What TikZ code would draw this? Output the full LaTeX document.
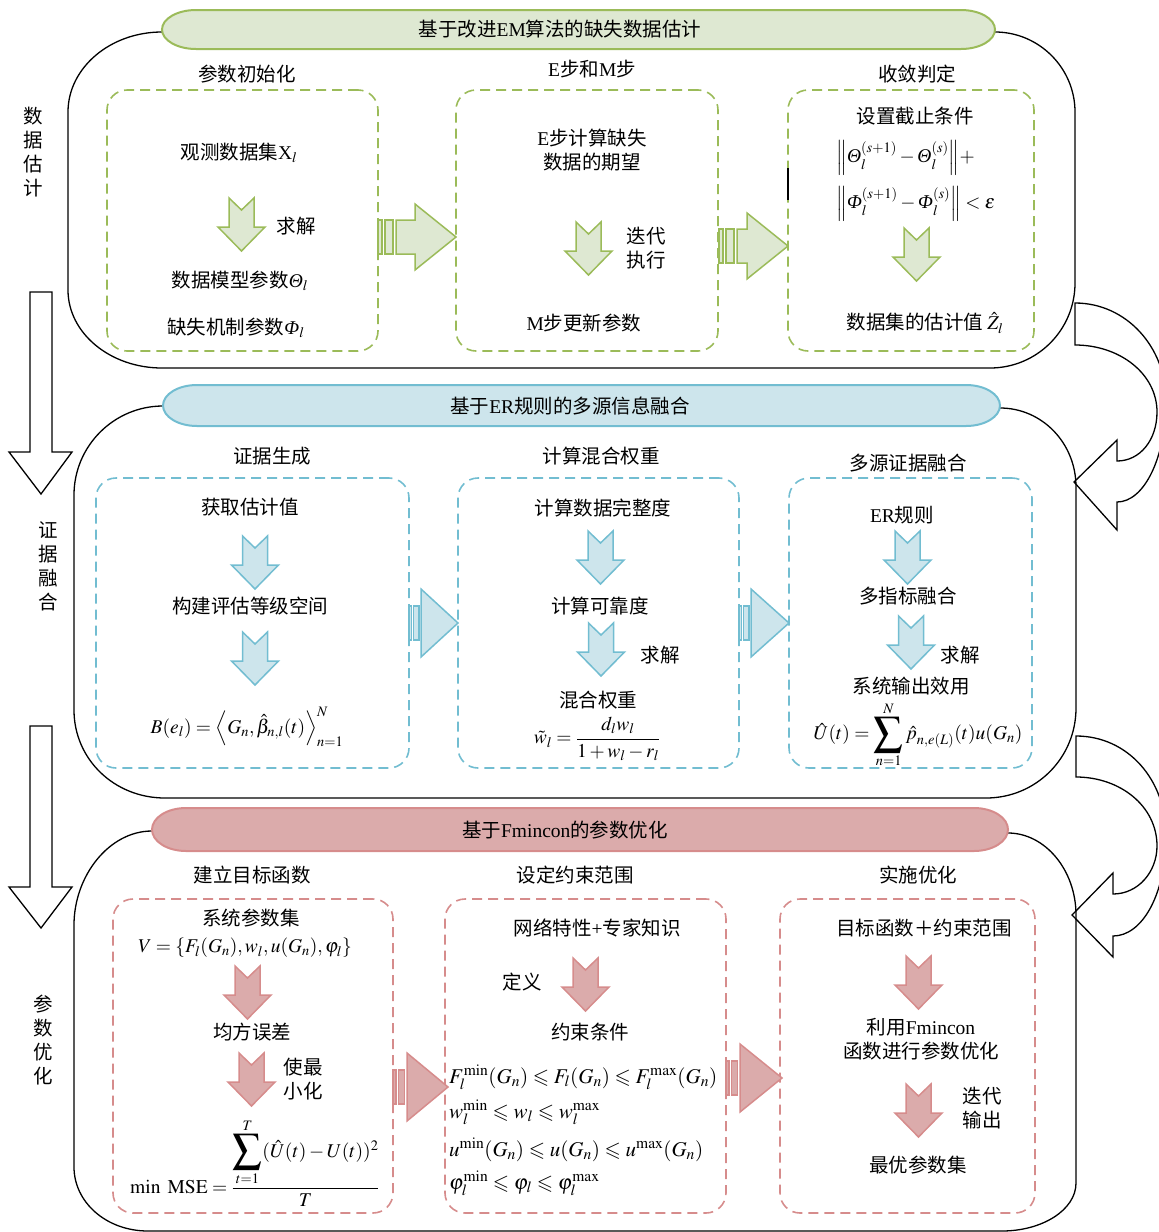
\documentclass[tikz,border=0pt]{standalone}
\usepackage{amsmath}
\usepackage{amssymb}
\usepackage{mathptmx}
\usepackage{fontspec}
\setmainfont{Liberation Serif}
\newfontfamily\zhfont{Noto Sans CJK SC}

\definecolor{gline}{HTML}{9BBB59}
\definecolor{gfill}{HTML}{DEE8D2}
\definecolor{bline}{HTML}{72BDD1}
\definecolor{bfill}{HTML}{CDE5EC}
\definecolor{rline}{HTML}{D68C8C}
\definecolor{rfill}{HTML}{DBABAB}

\newcommand\en[1]{{\rmfamily #1}}
\newcommand\itTheta{\mbox{\rmfamily\itshape Θ}}
\newcommand\itPhi{\mbox{\rmfamily\itshape Φ}}
% enlarged summation sign with limits above and below
\newcommand\bigsum{\mathop{\vcenter{\hbox{\fontsize{29}{29}\selectfont$\displaystyle\sum$}}}\limits}

% title banner with elliptical ends: x1, x2, top, bottom, line, fill
\newcommand\banner[6]{%
  \draw[line width=2pt, draw=#5, fill=#6]
    ({#1+34},{#3}) -- ({#2-34},{#3})
    arc[start angle=-90, end angle=90, x radius=34, y radius={(#4-#3)/2}]
    -- ({#1+34},{#4})
    arc[start angle=90, end angle=270, x radius=34, y radius={(#4-#3)/2}]
    -- cycle;}

% block arrow between steps: x0, shaft start, head start, tip, y centre, half shaft, half head, style
\newcommand\blkarrow[8]{%
  \pgfmathsetmacro\bL{#2-#1}
  \draw[#8] ({#1},{#5-#6}) rectangle ({#1+0.22*\bL},{#5+#6});
  \draw[#8] ({#1+0.39*\bL},{#5-#6}) rectangle ({#1+0.83*\bL},{#5+#6});
  \draw[#8] ({#2},{#5-#6}) -- ({#3},{#5-#6}) -- ({#3},{#5-#7}) -- ({#4},{#5})
    -- ({#3},{#5+#7}) -- ({#3},{#5+#6}) -- ({#2},{#5+#6}) -- cycle;}

% notched downward arrow: x centre, top, style
\newcommand\dnarrow[3]{%
  \draw[#3] ({#1-12.5},{#2}) -- ({#1},{#2+12}) -- ({#1+12.5},{#2})
    -- ({#1+12.5},{#2+29}) -- ({#1+23.5},{#2+29}) -- ({#1},{#2+53})
    -- ({#1-23.5},{#2+29}) -- ({#1-12.5},{#2+29}) -- cycle;}

\tikzset{
  zh/.style={font=\zhfont\fontsize{19.5}{24}\selectfont, inner sep=0pt, align=center},
  mth/.style={font=\fontsize{19.5}{24}\selectfont, inner sep=0pt},
  mthl/.style={font=\fontsize{21}{25}\selectfont, inner sep=0pt},
  panel/.style={draw=black, line width=1.3pt},
  dbox/.style={draw=#1, line width=1.6pt, dash pattern=on 10pt off 6pt,
               rounded corners=20pt, inner sep=0pt},
  garr/.style={draw=gline, fill=gfill, line width=1.5pt},
  barr/.style={draw=bline, fill=bfill, line width=1.5pt},
  rarr/.style={draw=rline, fill=rfill, line width=1.5pt},
  warr/.style={draw=black, fill=white, line width=1.3pt},
}

\begin{document}
\begin{tikzpicture}[x=1pt,y=-1pt]
\useasboundingbox (0,0) rectangle (1159,1232);

% ---------- curved arrows on the right ----------
\draw[warr] (1075,303) .. controls (1127,303) and (1166,348) .. (1166,400)
  .. controls (1166,458) and (1144,502) .. (1117,502)
  -- (1117,530) -- (1074,482) -- (1117,440) -- (1117,461)
  .. controls (1140,461) and (1157,440) .. (1157,412)
  .. controls (1157,374) and (1120,345) .. (1075,345) -- cycle;
\draw[warr] (1076,736) .. controls (1128,736) and (1166,780) .. (1166,835)
  .. controls (1166,895) and (1142,936) .. (1113,936)
  -- (1113,957) -- (1072,915) -- (1113,873) -- (1113,894)
  .. controls (1138,894) and (1157,872) .. (1157,846)
  .. controls (1157,806) and (1120,777) .. (1076,777) -- cycle;

% ---------- panels ----------
\draw[panel] (162,32) .. controls (110,32) and (68,68) .. (68,112) -- (68,290)
  .. controls (68,333) and (110,368) .. (162,368) -- (990,368)
  .. controls (1037,368) and (1075,330) .. (1075,283) -- (1075,112)
  .. controls (1075,68) and (1039,32) .. (995,32);
\draw[panel] (163,406) .. controls (114,406) and (74,446) .. (74,495) -- (74,710)
  .. controls (74,759) and (114,798) .. (165,798) -- (986,798)
  .. controls (1036,798) and (1076,758) .. (1076,708) -- (1076,487)
  .. controls (1076,443) and (1042,408) .. (1000,408);
\draw[panel] (152,831) .. controls (109,831) and (74,876) .. (74,925) -- (74,1167)
  .. controls (74,1202) and (106,1231) .. (148,1231) -- (1002,1231)
  .. controls (1042,1231) and (1076,1210) .. (1076,1183) -- (1076,915)
  .. controls (1076,870) and (1045,833) .. (1008,833);

% ---------- left flow arrows and stage labels ----------
\draw[warr] (30,292) -- (52,292) -- (52,452) -- (72,452) -- (41,494) -- (9,452) -- (30,452) -- cycle;
\draw[warr] (30,726) -- (52,726) -- (52,887) -- (72,887) -- (41,928) -- (9,887) -- (30,887) -- cycle;
\node[zh] (lab1) at (33,152.5) {数\\据\\估\\计};
\node[zh] (lab2) at (48,566) {证\\据\\融\\合};
\node[zh] (lab3) at (43,1040.5) {参\\数\\优\\化};

% ================= stage 1: missing data estimation =================
\banner{162}{995}{10}{49}{gline}{gfill}
\node[zh] (ban1) at (560,29.5) {基于改进\en{EM}算法的缺失数据估计};

\node[zh] (s11) at (247,74) {参数初始化};
\node[zh] (s12) at (592,69) {\en{E}步和\en{M}步};
\node[zh] (s13) at (917,74) {收敛判定};

\node[dbox=gline, minimum width=271pt, minimum height=261pt] (b11) at (242.5,220.5) {};
\node[dbox=gline, minimum width=262pt, minimum height=261pt] (b12) at (587,220.5) {};
\node[dbox=gline, minimum width=246pt, minimum height=261pt] (b13) at (911,220.5) {};
\draw[line width=1.3pt] (788,168) -- (788,200);

\blkarrow{378}{396}{415}{456}{237}{17}{33}{garr}
\blkarrow{719}{737}{747}{788}{246}{17}{33}{garr}

\node[zh] (n11) at (239,153) {观测数据集\en{X}$_l$};
\dnarrow{241.5}{198}{garr}
\node[zh] (n12) at (296,226) {求解};
\node[zh] (n13) at (240,281) {数据模型参数$\itTheta_l$};
\node[zh] (n14) at (236,328) {缺失机制参数$\itPhi_l$};

\node[zh] (n21) at (592,150) {\en{E}步计算缺失\\数据的期望};
\dnarrow{588.5}{222}{garr}
\node[zh] (n22) at (646,248) {迭代\\执行};
\node[zh] (n23) at (584,323) {\en{M}步更新参数};

\node[zh] (n31) at (915,116) {设置截止条件};
\node[mth, anchor=west] (n32) at (836,158)
  {$\Bigl\|\itTheta_l^{(s+1)}-\itTheta_l^{(s)}\Bigr\|+$};
\node[mth, anchor=west] (n33) at (836,204)
  {$\Bigl\|\itPhi_l^{(s+1)}-\itPhi_l^{(s)}\Bigr\|<\varepsilon$};
\dnarrow{916.5}{228}{garr}
\node[zh] (n34) at (925,323) {数据集的估计值 $\hat Z_l$};

% ================= stage 2: evidence fusion =================
\banner{163}{1000}{385}{426}{bline}{bfill}
\node[zh] (ban2) at (570,406) {基于\en{ER}规则的多源信息融合};

\node[zh] (s21) at (272,456) {证据生成};
\node[zh] (s22) at (601,456) {计算混合权重};
\node[zh] (s23) at (908,463) {多源证据融合};

\node[dbox=bline, minimum width=313pt, minimum height=290pt] (b21) at (252.5,623) {};
\node[dbox=bline, minimum width=281pt, minimum height=290pt] (b22) at (598.5,623) {};
\node[dbox=bline, minimum width=243pt, minimum height=290pt] (b23) at (910.5,623) {};

\blkarrow{409}{421}{421}{458}{623}{17}{34}{barr}
\blkarrow{739}{751}{751}{789}{623}{17}{34}{barr}

\node[zh] (m11) at (250,507) {获取估计值};
\dnarrow{255}{536}{barr}
\node[zh] (m12) at (250,606) {构建评估等级空间};
\dnarrow{255}{632}{barr}
\node[mth] (m13) at (247,727)
  {$B(e_l)=\Bigl\langle G_n,\hat\beta_{n,l}(t)\Bigr\rangle_{n=1}^{N}$};

\node[zh] (m21) at (603,508) {计算数据完整度};
\dnarrow{600.5}{531}{barr}
\node[zh] (m22) at (600,606) {计算可靠度};
\dnarrow{601}{623}{barr}
\node[zh] (m23) at (660,655) {求解};
\node[zh] (m24) at (598,700) {混合权重};
\node[mth] (m25) at (597,739) {$\tilde w_l=\dfrac{d_l w_l}{1+w_l-r_l}$};

\node[zh] (m31) at (902,515) {\en{ER}规则};
\dnarrow{907.5}{531}{barr}
\node[zh] (m32) at (908,596) {多指标融合};
\dnarrow{911}{616}{barr}
\node[zh] (m33) at (960,655) {求解};
\node[zh] (m34) at (911,686) {系统输出效用};
\node[mth] (m35) at (918,735)
  {$\hat U(t)=\bigsum_{n=1}^{N}\hat p_{n,e(L)}(t)u(G_n)$};

% ================= stage 3: parameter optimisation =================
\banner{152}{1008}{808}{851}{rline}{rfill}
\node[zh] (ban3) at (565,830) {基于\en{Fmincon}的参数优化};

\node[zh] (s31) at (252,875) {建立目标函数};
\node[zh] (s32) at (575,875) {设定约束范围};
\node[zh] (s33) at (918,875) {实施优化};

\node[dbox=rline, minimum width=280pt, minimum height=314pt] (b31) at (253,1056) {};
\node[dbox=rline, minimum width=281pt, minimum height=314pt] (b32) at (585.5,1056) {};
\node[dbox=rline, minimum width=255pt, minimum height=314pt] (b33) at (907.5,1056) {};

\blkarrow{393}{407}{407}{448}{1087}{17}{34}{rarr}
\blkarrow{726}{740}{740}{782}{1078}{17}{34}{rarr}

\node[zh] (k11) at (251,918) {系统参数集};
\node[mth] (k12) at (245,948)
  {$V=\left\{F_l(G_n),w_l,u(G_n),\varphi_l\right\}$};
\dnarrow{247.5}{966}{rarr}
\node[zh] (k13) at (252,1032) {均方误差};
\dnarrow{251.5}{1053}{rarr}
\node[zh] (k14) at (303,1079) {使最\\小化};
\node[mth, anchor=base west] (k15) at (130,1193)
  {$\min\ \mathrm{MSE}=\dfrac{\bigsum_{t=1}^{T}(\hat U(t)-U(t))^2}{T}$};

\node[zh] (k21) at (597,928) {网络特性\en{+}专家知识};
\dnarrow{585.5}{958}{rarr}
\node[zh] (k22) at (522,982) {定义};
\node[zh] (k23) at (590,1032) {约束条件};
\node[mthl, anchor=base west] (k24) at (449,1083)
  {$F_l^{\min}(G_n)\leqslant F_l(G_n)\leqslant F_l^{\max}(G_n)$};
\node[mthl, anchor=base west] (k25) at (449,1118)
  {$w_l^{\min}\leqslant w_l\leqslant w_l^{\max}$};
\node[mthl, anchor=base west] (k26) at (449,1156)
  {$u^{\min}(G_n)\leqslant u(G_n)\leqslant u^{\max}(G_n)$};
\node[mthl, anchor=base west] (k27) at (449,1189)
  {$\varphi_l^{\min}\leqslant\varphi_l\leqslant\varphi_l^{\max}$};

\node[zh] (k31) at (924,928) {目标函数＋约束范围};
\dnarrow{918.5}{956}{rarr}
\node[zh] (k32) at (921,1039) {利用\en{Fmincon}\\函数进行参数优化};
\dnarrow{918.5}{1084}{rarr}
\node[zh] (k33) at (982,1108) {迭代\\输出};
\node[zh] (k34) at (918,1165) {最优参数集};

\end{tikzpicture}
\end{document}
